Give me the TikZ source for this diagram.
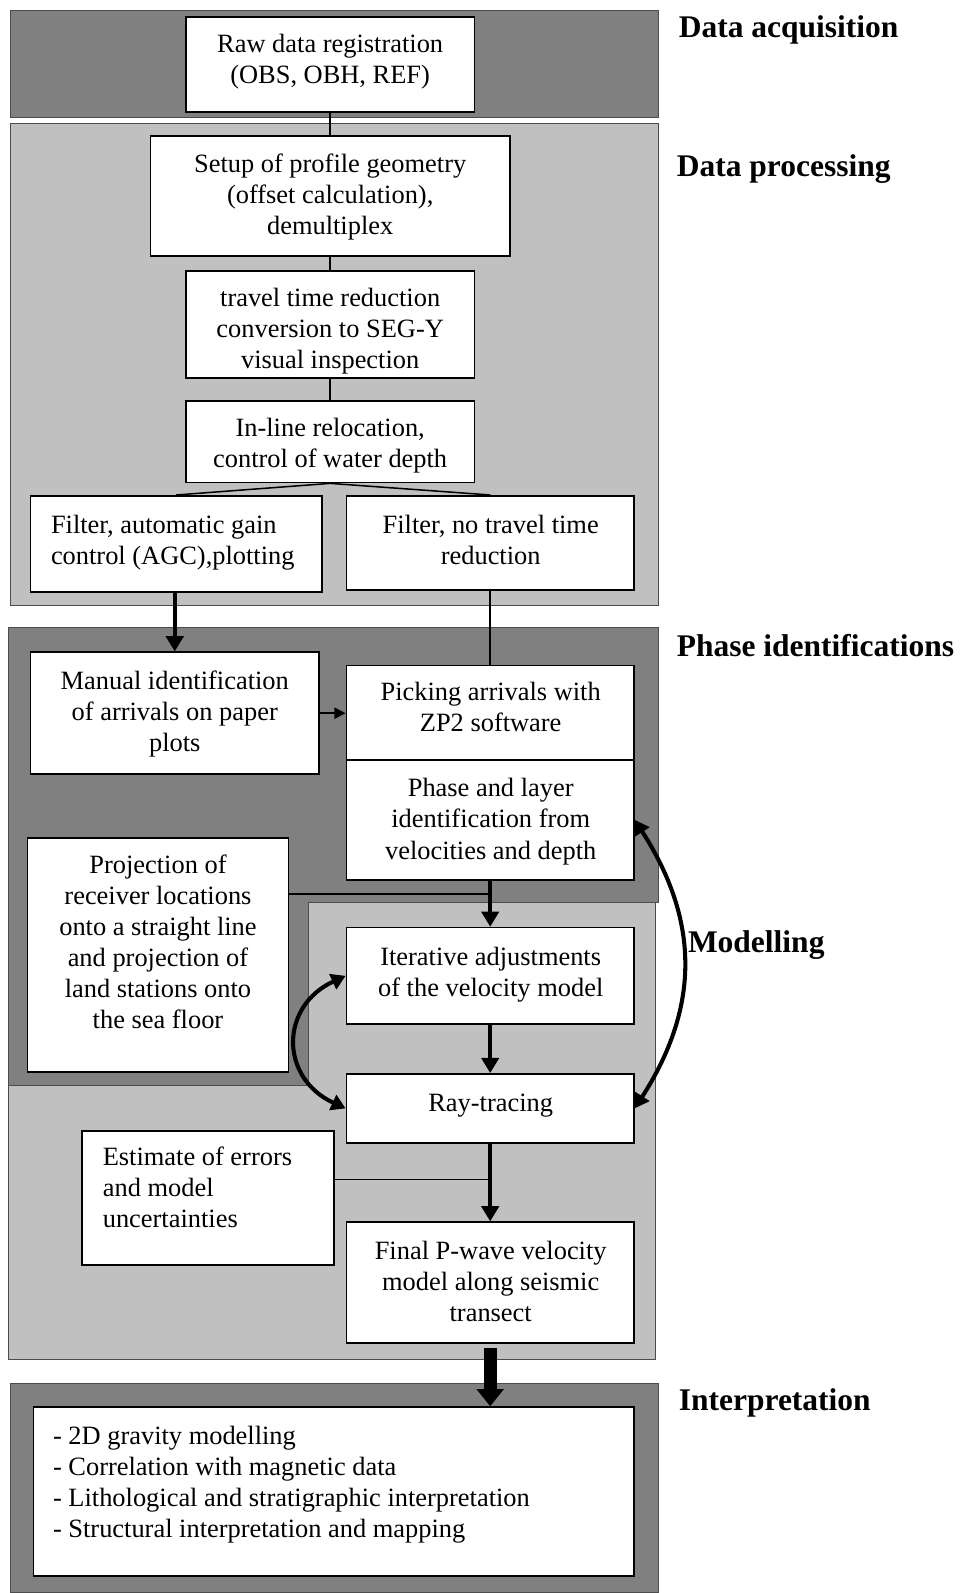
\documentclass[tikz,border=0pt]{standalone}
\usepackage{fontspec}
\setmainfont{Liberation Serif}
\usetikzlibrary{arrows.meta}
\definecolor{dkgray}{HTML}{808080}
\definecolor{ltgray}{HTML}{C0C0C0}
\newcommand\boxfont{\fontsize{26}{30.6}\selectfont}
\newcommand\headfont{\fontsize{31}{36}\selectfont\bfseries}
\tikzset{
  band/.style={draw=black!70, line width=1pt},
  darkband/.style={band, fill=dkgray},
  lightband/.style={band, fill=ltgray},
  box/.style={draw=black, fill=white, line width=1.6pt, inner sep=0pt},
  txt/.style={inner sep=0pt, font=\boxfont, yshift=-1.5pt, execute at begin node=\strut, execute at end node=\strut},
  ctxt/.style={txt, align=center},
  ltxt/.style={txt, align=left, anchor=west},
  head/.style={inner sep=0pt, font=\headfont, anchor=base west},
  conn/.style={line width=1.5pt},
  thinarrow/.style={line width=1.5pt, -{Triangle[length=11pt,width=11pt]}},
  thickarrow/.style={line width=4pt, -{Triangle[length=15pt,width=17pt]}},
  dblarrow/.style={line width=4pt, {Triangle[length=14pt,width=16pt]}-{Triangle[length=14pt,width=16pt]}},
  bigarrow/.style={line width=13pt, -{Triangle[length=17pt,width=26pt]}, shorten <=4pt}
}
\begin{document}
\begin{tikzpicture}[x=1pt,y=-1pt]
\useasboundingbox (0,0) rectangle (945,1568);
% background bands
\path[darkband] (10,10) rectangle (648,116);
\path[lightband] (10,122) rectangle (648,596);
\path[darkband] (8,618) -- (648,618) -- (648,888) -- (304,888) -- (304,1068) -- (8,1068) -- cycle;
\path[lightband] (304,888) -- (645,888) -- (645,1338) -- (8,1338) -- (8,1068) -- (304,1068) -- cycle;
\path[darkband] (10,1362) rectangle (648,1567.5);
% boxes
\node[box, minimum width=284pt, minimum height=93pt] (raw) at (325,63.5) {};
\node[ctxt] (rawt) at (325,61) {Raw data registration\\(OBS, OBH, REF)};
\node[box, minimum width=354pt, minimum height=118pt] (setup) at (325,193) {};
\node[ctxt] (setupt) at (325,194) {Setup of profile geometry\\(offset calculation),\\demultiplex};
\node[box, minimum width=284pt, minimum height=105pt] (travel) at (325,319.5) {};
\node[ctxt] (travelt) at (325,326) {travel time reduction\\conversion to SEG-Y\\visual inspection};
\node[box, minimum width=284pt, minimum height=80pt] (inline) at (325,435) {};
\node[ctxt] (inlinet) at (325,439) {In-line relocation,\\control of water depth};
\node[box, minimum width=287pt, minimum height=95pt] (agc) at (173.5,535.5) {};
\node[ltxt] (agct) at (50,534) {Filter, automatic gain\\control (AGC),plotting};
\node[box, minimum width=283pt, minimum height=93pt] (notr) at (482.5,534.5) {};
\node[ctxt] (notrt) at (483,534) {Filter, no travel time\\reduction};
\node[box, minimum width=284pt, minimum height=120pt] (manual) at (172,702) {};
\node[ctxt] (manualt) at (172,703) {Manual identification\\of arrivals on paper\\plots};
\node[box, minimum width=283pt, minimum height=93pt] (pick) at (482.5,701.5) {};
\node[ctxt] (pickt) at (483,699) {Picking arrivals with\\ZP2 software};
\node[box, minimum width=283pt, minimum height=118pt] (phase) at (482.5,807) {};
\node[ctxt] (phaset) at (483,809) {Phase and layer\\identification from\\velocities and depth};
\node[box, minimum width=257pt, minimum height=230pt] (proj) at (155.5,940) {};
\node[ctxt] (projt) at (155.5,930) {Projection of\\receiver locations\\onto a straight line\\and projection of\\land stations onto\\the sea floor};
\node[box, minimum width=283pt, minimum height=95pt] (iter) at (482.5,960.5) {};
\node[ctxt] (itert) at (483,959.5) {Iterative adjustments\\of the velocity model};
\node[box, minimum width=283pt, minimum height=68pt] (ray) at (482.5,1091) {};
\node[ctxt] (rayt) at (483,1086) {Ray-tracing};
\node[box, minimum width=248pt, minimum height=132pt] (est) at (205,1179) {};
\node[ltxt] (estt) at (101,1172) {Estimate of errors\\and model\\uncertainties};
\node[box, minimum width=283pt, minimum height=119pt] (final) at (482.5,1262.5) {};
\node[ctxt] (finalt) at (483,1264) {Final P-wave velocity\\model along seismic\\transect};
\node[box, minimum width=591pt, minimum height=166pt] (interp) at (328.5,1468) {};
\node[ltxt] (interpt) at (52,1461.5) {- 2D gravity modelling\\- Correlation with magnetic data\\- Lithological and stratigraphic interpretation\\- Structural interpretation and mapping};
% headings
\node[head] (h1) at (668,37) {Data acquisition};
\node[head] (h2) at (666,174) {Data processing};
\node[head] (h3) at (666,646) {Phase identifications};
\node[head] (h4) at (677,938) {Modelling};
\node[head] (h5) at (668,1388) {Interpretation};
% connectors
\draw[conn] (raw.south) -- (setup.north);
\draw[conn] (setup.south) -- (travel.north);
\draw[conn] (travel.south) -- (inline.north);
\draw[conn] (inline.south) -- (agc.north);
\draw[conn] (inline.south) -- (notr.north);
\draw[thickarrow] (agc.south -| manual.north) -- (manual.north);
\draw[conn] (notr.south) -- (pick.north);
\draw[thinarrow] (manual.east) -- (manual.east -| pick.west);
\coordinate (pj) at (482.5,880);
\draw[conn] (proj.east |- pj) -- (pj);
\draw[thickarrow] (phase.south) -- (iter.north);
\draw[thickarrow] (iter.south) -- (ray.north);
\draw[dblarrow] (iter.west) .. controls +(-65,30) and +(-65,-30) .. (ray.west);
\draw[dblarrow] (phase.east) .. controls +(64,100) and +(64,-100) .. (ray.east);
\coordinate (ej) at (480,1161);
\draw[conn] (est.east |- ej) -- (ej);
\draw[thickarrow] (ray.south) -- (final.north);
\draw[bigarrow] (final.south) -- (final.south |- interp.north);
\end{tikzpicture}
\end{document}
